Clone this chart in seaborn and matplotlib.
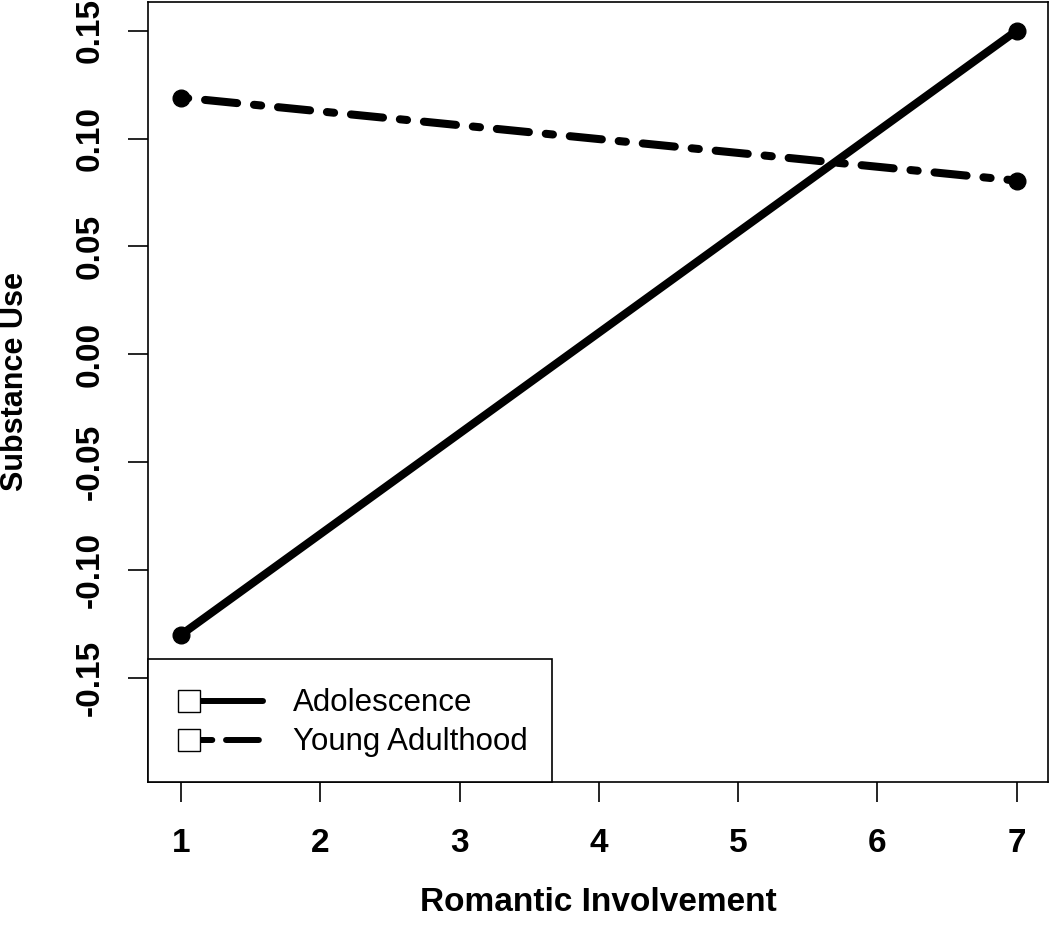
import matplotlib
matplotlib.use('Agg')
import matplotlib.pyplot as plt
from matplotlib.lines import Line2D
from matplotlib.legend_handler import HandlerBase
import pandas as pd
import seaborn as sns

# values
romantic = [1, 7]
adolescence = [-0.13, 0.15]
young_adulthood = [0.119, 0.0805]
groups = ['Adolescence', 'Young Adulthood']
x_ticks = [1, 2, 3, 4, 5, 6, 7]
y_ticks = [-0.15, -0.10, -0.05, 0.00, 0.05, 0.10, 0.15]
y_tick_labels = ['-0.15', '-0.10', '-0.05', '0.00', '0.05', '0.10', '0.15']

df = pd.DataFrame({
    'romantic': romantic * 2,
    'substance': adolescence + young_adulthood,
    'group': [groups[0]] * 2 + [groups[1]] * 2,
})

sns.set_style('ticks')
plt.rcParams['font.family'] = ['Liberation Sans', 'DejaVu Sans']
plt.rcParams['axes.unicode_minus'] = False
plt.rcParams['text.color'] = 'black'
plt.rcParams['axes.labelcolor'] = 'black'


class SquareLineHandler(HandlerBase):
    # R style legend key: open square with the line running off to the right
    def create_artists(self, legend, orig_handle, xdescent, ydescent,
                       width, height, fontsize, trans):
        y = height / 2 - ydescent
        x_sq = -xdescent + 12.2
        x_end = -xdescent + width - 2.2
        line = Line2D([x_sq, x_end], [y, y])
        line.update_from(orig_handle)
        line.set_transform(trans)
        sq = Line2D([x_sq], [y], marker='s', markersize=15.8,
                    markerfacecolor='white', markeredgecolor='black',
                    markeredgewidth=1, linestyle='None', transform=trans)
        return [line, sq]


fig = plt.figure(figsize=(10.5, 9.36), dpi=100)
ax = fig.add_axes([148 / 1050, 1 - 782 / 936, 900 / 1050, 780.5 / 936])

sns.lineplot(data=df, x='romantic', y='substance', hue='group', style='group',
             palette={g: 'black' for g in groups},
             dashes={groups[0]: '', groups[1]: (0.9, 2.1, 4.0, 2.1)},
             markers={groups[0]: 'o', groups[1]: 'o'},
             markersize=12, markeredgewidth=1, markeredgecolor='black',
             linewidth=5.8, solid_capstyle='round', dash_capstyle='round',
             legend=False, ax=ax)

ax.set_xlim(0.763, 7.225)
ax.set_ylim(-0.1982, 0.1635)
ax.set_xticks(x_ticks)
ax.set_xticklabels([str(t) for t in x_ticks], fontweight='bold')
ax.set_yticks(y_ticks)
ax.set_yticklabels(y_tick_labels, rotation=90, va='center', fontweight='bold')
ax.tick_params(direction='out', length=14.4, width=1.2,
               labelsize=24, color='black', labelcolor='black',
               bottom=True, left=True)
ax.tick_params(axis='x', pad=19)
ax.tick_params(axis='y', pad=16)
for sp in ax.spines.values():
    sp.set_visible(True)
    sp.set_color('black')
    sp.set_linewidth(1.2)

ax.set_xlabel('Romantic Involvement', fontsize=24, fontweight='bold')
ax.set_ylabel('Substance Use', fontsize=22, fontweight='bold')
ax.xaxis.set_label_coords(0.5, -0.1345)
ax.yaxis.set_label_coords(-0.131, 0.5125)

proxies = [
    Line2D([], [], color='black', lw=4.3, linestyle='-',
           solid_capstyle='round'),
    Line2D([], [], color='black', lw=4.3, linestyle=(0, (3.9, 2.3, 5.5, 2.3)),
           dash_capstyle='round'),
]
leg = ax.legend(handles=proxies, labels=groups,
                handler_map={Line2D: SquareLineHandler()},
                loc='lower left', bbox_to_anchor=(0, 0), borderaxespad=0,
                fontsize=22.5, frameon=True, fancybox=False, edgecolor='black',
                framealpha=1, borderpad=0.78, handlelength=3.0,
                handleheight=1.4, handletextpad=0.86, labelspacing=0.08)
leg.get_frame().set_linewidth(1.2)
for t in leg.get_texts():
    t.set_color('black')

fig.savefig('out.png', dpi=100)
